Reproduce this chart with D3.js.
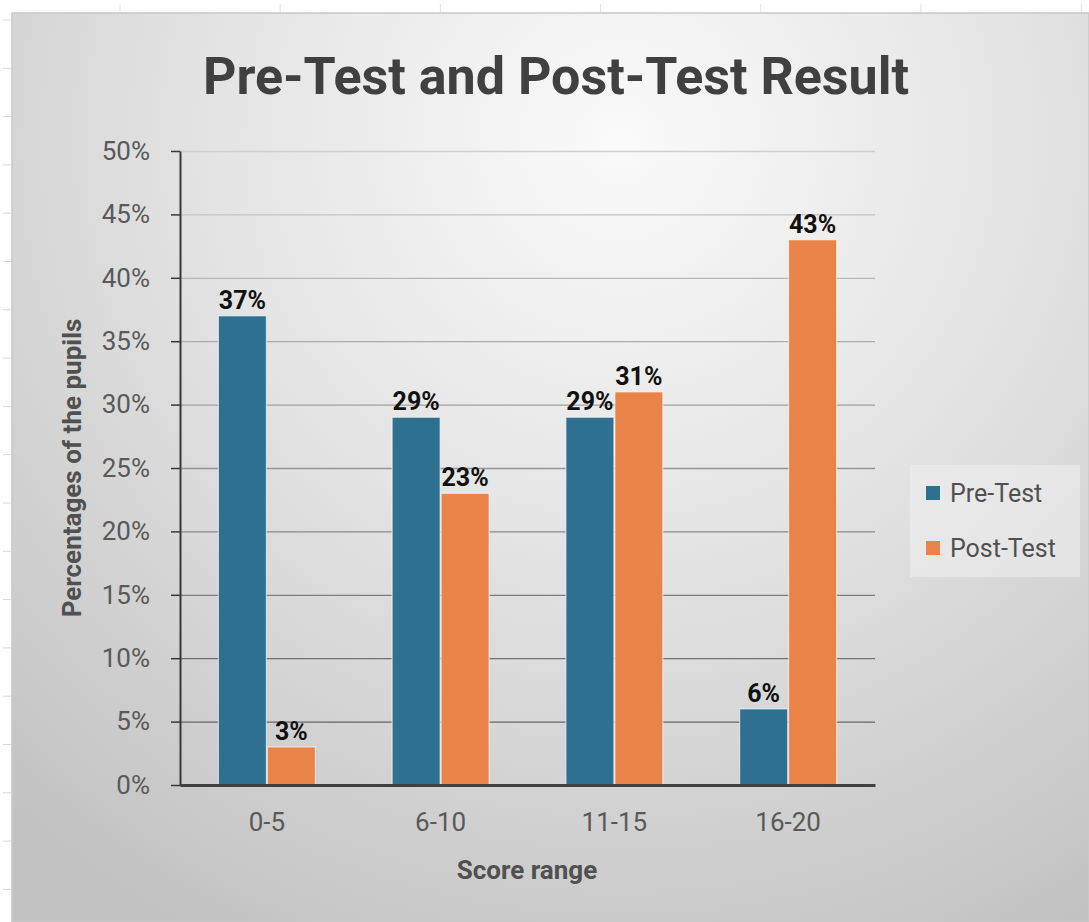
<!DOCTYPE html>
<html>
<head>
<meta charset="utf-8">
<title>Pre-Test and Post-Test Result</title>
<script src="https://d3js.org/d3.v7.min.js"></script>
<style>
    body { margin: 0; background: #fff; }
    svg { display: block; }
    text { font-family: Roboto, "Noto Sans", sans-serif; }
</style>
</head>
<body>
<svg width="1089" height="922"></svg>
<script>
    // data
    const categories = ["0-5", "6-10", "11-15", "16-20"];
    const seriesNames = ["Pre-Test", "Post-Test"];
    const preTest = [0.37, 0.29, 0.29, 0.06];
    const postTest = [0.03, 0.23, 0.31, 0.43];
    const yTicks = [0, 0.05, 0.10, 0.15, 0.20, 0.25, 0.30, 0.35, 0.40, 0.45, 0.50];

    const colors = { "Pre-Test": "#2e7090", "Post-Test": "#ea8348" };

    const rows = categories.map((c, i) => ({
        category: c,
        values: [
            { series: "Pre-Test", value: preTest[i] },
            { series: "Post-Test", value: postTest[i] }
        ]
    }));

    const svg = d3.select("svg");
    const W = 1089, H = 922;

    // background (chart frame with radial shading)
    const defs = svg.append("defs");
    const rg = defs.append("radialGradient")
        .attr("id", "bg")
        .attr("gradientUnits", "userSpaceOnUse")
        .attr("cx", 620).attr("cy", 140).attr("r", 900);
    rg.append("stop").attr("offset", "0%").attr("stop-color", "#fafafa");
    rg.append("stop").attr("offset", "45%").attr("stop-color", "#e4e4e4");
    rg.append("stop").attr("offset", "100%").attr("stop-color", "#c2c2c2");

    // spreadsheet-like faint ticks outside the frame
    svg.append("g").selectAll("line")
        .data(d3.range(20, H, 48.3))
        .join("line")
        .attr("x1", 3).attr("x2", 12)
        .attr("y1", d => d).attr("y2", d => d)
        .attr("stroke", "#d8d8d8");
    svg.append("g").selectAll("line")
        .data(d3.range(120, W, 160.2))
        .join("line")
        .attr("x1", d => d).attr("x2", d => d)
        .attr("y1", 4).attr("y2", 13)
        .attr("stroke", "#e2e2e2");

    svg.append("rect")
        .attr("x", 12).attr("y", 13)
        .attr("width", W - 12).attr("height", H - 13)
        .attr("fill", "url(#bg)")
        .attr("stroke", "#c8c8c8")
        .attr("stroke-width", 1.5);

    // scales
    const x = d3.scaleBand()
        .domain(categories)
        .range([180, 875])
        .paddingInner(0.442)
        .paddingOuter(0.221);

    const x1 = d3.scaleBand()
        .domain(seriesNames)
        .range([0, x.bandwidth()])
        .paddingInner(0.02);

    const y = d3.scaleLinear()
        .domain([0, 0.5])
        .range([785, 151]);

    const gridColor = d3.scaleLinear()
        .domain([0, 0.5])
        .range(["#5a5a5a", "#cfcfcf"]);

    // gridlines
    const grid = svg.append("g")
        .attr("transform", "translate(180,0)")
        .call(d3.axisLeft(y).tickValues(yTicks).tickSize(-695).tickFormat(""));
    grid.select(".domain").remove();
    grid.selectAll(".tick line")
        .attr("stroke", d => gridColor(d))
        .attr("stroke-width", 1.3);

    // bars
    const groups = svg.append("g").selectAll("g")
        .data(rows)
        .join("g")
        .attr("transform", d => `translate(${x(d.category)},0)`);

    groups.selectAll("rect")
        .data(d => d.values)
        .join("rect")
        .attr("x", d => x1(d.series))
        .attr("y", d => y(d.value))
        .attr("width", x1.bandwidth())
        .attr("height", d => y(0) - y(d.value))
        .attr("fill", d => colors[d.series])
        .attr("stroke", "rgba(255,255,255,0.6)")
        .attr("stroke-width", 1.2);

    groups.selectAll("text")
        .data(d => d.values)
        .join("text")
        .attr("x", d => x1(d.series) + x1.bandwidth() / 2)
        .attr("y", d => y(d.value) - 7)
        .attr("text-anchor", "middle")
        .attr("font-size", 25)
        .attr("font-weight", 700)
        .attr("fill", "#111")
        .text(d => d3.format(".0%")(d.value));

    // y axis
    const yAxis = svg.append("g")
        .attr("transform", "translate(180,0)")
        .call(d3.axisLeft(y).tickValues(yTicks).tickSizeInner(9).tickSizeOuter(0)
            .tickPadding(21).tickFormat(d3.format(".0%")));
    yAxis.select(".domain").attr("stroke", "#2f3b40").attr("stroke-width", 2);
    yAxis.selectAll(".tick line").attr("stroke", "#2f3b40").attr("stroke-width", 1.5);
    yAxis.selectAll(".tick text")
        .attr("font-size", 26)
        .attr("font-family", "Roboto, sans-serif")
        .attr("fill", "#595959");

    // x axis
    const xAxis = svg.append("g")
        .attr("transform", "translate(0,785)")
        .call(d3.axisBottom(x).tickSize(0).tickPadding(28));
    xAxis.select(".domain").attr("stroke", "#404040").attr("stroke-width", 3);
    xAxis.selectAll(".tick text")
        .attr("font-size", 26)
        .attr("font-family", "Roboto, sans-serif")
        .attr("fill", "#595959");

    // titles
    svg.append("text")
        .attr("x", 556).attr("y", 94)
        .attr("text-anchor", "middle")
        .attr("font-size", 52)
        .attr("font-weight", 700)
        .attr("fill", "#404040")
        .text("Pre-Test and Post-Test Result");

    svg.append("text")
        .attr("transform", "translate(81,468) rotate(-90)")
        .attr("text-anchor", "middle")
        .attr("font-size", 26)
        .attr("font-weight", 700)
        .attr("fill", "#505050")
        .text("Percentages of the pupils");

    svg.append("text")
        .attr("x", 527).attr("y", 879)
        .attr("text-anchor", "middle")
        .attr("font-size", 26)
        .attr("font-weight", 700)
        .attr("fill", "#505050")
        .text("Score range");

    // legend
    const legend = svg.append("g").attr("transform", "translate(910,465)");
    legend.append("rect")
        .attr("width", 170).attr("height", 112)
        .attr("fill", "rgba(240,240,240,0.55)");
    const li = legend.selectAll("g")
        .data(seriesNames)
        .join("g")
        .attr("transform", (d, i) => `translate(16,${28 + i * 55})`);
    li.append("rect")
        .attr("y", -7).attr("width", 14).attr("height", 14)
        .attr("fill", d => colors[d]);
    li.append("text")
        .attr("x", 24).attr("dy", "0.35em")
        .attr("font-size", 25)
        .attr("fill", "#505050")
        .text(d => d);
</script>
</body>
</html>
